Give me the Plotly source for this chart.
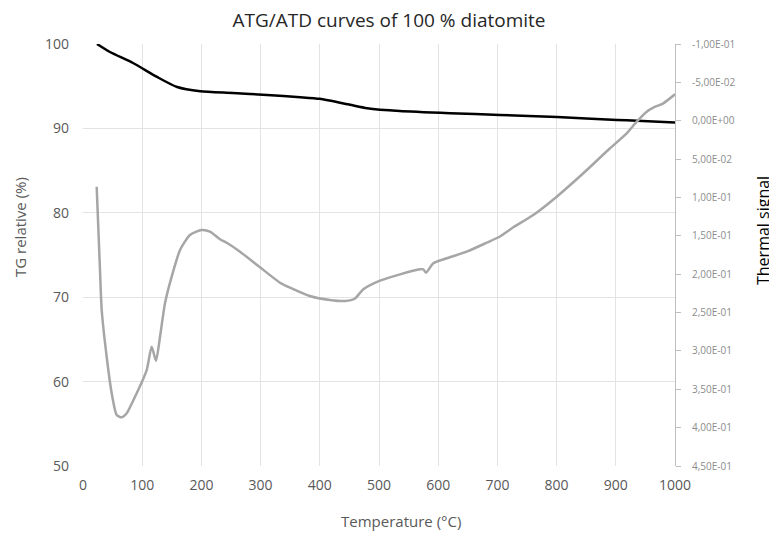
import plotly.graph_objects as go

# TG curve (left axis)
tg_temp = [23.6, 45.6, 84.5, 125, 159, 198, 253, 311, 367, 400, 451, 480, 535, 620, 704, 801, 902, 936, 1000]
tg_val = [100.0, 99.05, 97.75, 96.1, 94.9, 94.4, 94.2, 93.96, 93.7, 93.5, 92.8, 92.4, 92.06, 91.8, 91.6, 91.35, 91.0, 90.9, 90.7]

# Thermal signal (right axis, reversed)
th_temp = [23.1, 28.7, 31.6, 40.0, 48.5, 56.9, 65.4, 73.8, 90.7, 107.6, 116.0, 123.3, 130.1, 138.5,
           149.8, 163.9, 180.7, 200.5, 214.5, 231.4, 242.7, 265.2, 299.0, 332.8, 349.7, 383, 417, 443,
           459, 473.5, 501.7, 535.5, 569.3, 574.8, 579.4, 591.7, 614.4, 648.1, 681.9, 704.4, 726.9,
           760.6, 800.2, 845.1, 890.2, 918.4, 935.3, 952.2, 963.3, 980.2, 1000]
th_val = [0.086, 0.1945, 0.2467, 0.3076, 0.3552, 0.3835, 0.3865, 0.3813, 0.3552, 0.3249, 0.2945, 0.3128,
          0.2815, 0.2380, 0.2033, 0.1685, 0.1489, 0.1424, 0.1446, 0.1545, 0.1590, 0.1707, 0.1910, 0.2111,
          0.2176, 0.2284, 0.2336, 0.235, 0.232, 0.2197, 0.2085, 0.2002, 0.1936, 0.1936, 0.1981, 0.1858,
          0.1793, 0.1707, 0.1590, 0.1509, 0.1389, 0.1229, 0.0990, 0.0685, 0.0359, 0.0164, 0.0013,
          -0.0118, -0.0170, -0.0227, -0.0344]

x_ticks = [0, 100, 200, 300, 400, 500, 600, 700, 800, 900, 1000]
left_ticks = [50, 60, 70, 80, 90, 100]
right_tickvals = [-0.1, -0.05, 0.0, 0.05, 0.1, 0.15, 0.2, 0.25, 0.3, 0.35, 0.4, 0.45]
right_ticktext = ["-1,00E-01", "-5,00E-02", "0,00E+00", "5,00E-02", "1,00E-01", "1,50E-01",
                  "2,00E-01", "2,50E-01", "3,00E-01", "3,50E-01", "4,00E-01", "4,50E-01"]

fig = go.Figure()
fig.add_trace(go.Scatter(x=th_temp, y=th_val, mode="lines", yaxis="y2",
                         line=dict(color="#a6a6a6", width=2.5, shape="spline", smoothing=0.6),
                         showlegend=False))
fig.add_trace(go.Scatter(x=tg_temp, y=tg_val, mode="lines",
                         line=dict(color="#000000", width=2.5, shape="spline", smoothing=0.6),
                         showlegend=False))

font_family = "Open Sans, Liberation Sans, sans-serif"
# page has an 8px body margin; figure is offset by (8, 8)
OFF = 8
W, H = 777 - OFF, 535 - OFF
PW, PH = 592, 422
fig.update_layout(
    width=W, height=H,
    margin=dict(l=83 - OFF, r=W - (675 - OFF), t=44 - OFF, b=H - (466 - OFF), autoexpand=False),
    paper_bgcolor="white", plot_bgcolor="white",
    font=dict(family=font_family, color="#595959"),
    title=dict(text="ATG/ATD curves of 100 % diatomite", x=(389 - OFF) / W, xanchor="center",
               y=1 - (20 - OFF) / H, yanchor="middle", font=dict(size=19, color="#262626")),
    xaxis=dict(range=[0, 1000], tickvals=x_ticks, showgrid=True, gridcolor="#e3e3e3", gridwidth=1,
               zeroline=False, showline=False, ticks="", tickfont=dict(size=14, color="#595959"),
               ticklabelstandoff=9),
    yaxis=dict(range=[50, 100], tickvals=left_ticks, showgrid=True, gridcolor="#e3e3e3", gridwidth=1,
               zeroline=False, showline=False, ticks="", tickfont=dict(size=14, color="#595959"),
               ticklabelstandoff=13),
    yaxis2=dict(range=[0.45, -0.1], overlaying="y", side="right", tickvals=right_tickvals,
                ticktext=right_ticktext, showgrid=False, zeroline=False, showline=True,
                linecolor="#bfbfbf", linewidth=1, ticks="outside", ticklen=5, tickcolor="#bfbfbf",
                tickfont=dict(size=10, color="#8c8c8c"), ticklabelstandoff=9),
    annotations=[
        dict(text="Temperature (°C)", x=(401 - 83) / PW, xref="paper", xanchor="center",
             y=(466 - 521) / PH, yref="paper", yanchor="middle", showarrow=False,
             font=dict(size=15, color="#595959")),
        dict(text="TG relative (%)", xref="paper", yref="paper", x=(20 - 83) / PW, y=(466 - 227) / PH,
             xanchor="center", yanchor="middle", textangle=-90, showarrow=False,
             font=dict(size=15, color="#595959")),
        dict(text="Thermal signal", xref="paper", yref="paper", x=(763 - 83) / PW, y=(466 - 231) / PH,
             xanchor="center", yanchor="middle", textangle=-90, showarrow=False,
             font=dict(size=16, color="#000000")),
    ],
)

fig.write_html("out.html")
